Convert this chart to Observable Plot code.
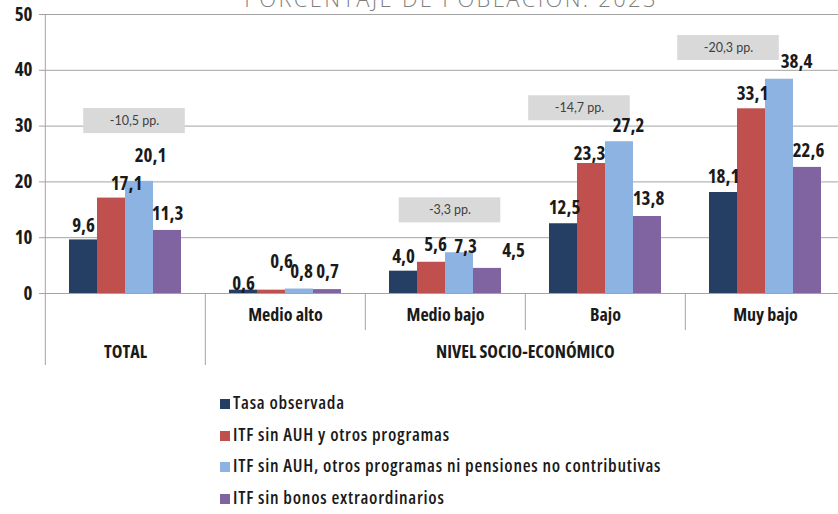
<!DOCTYPE html>
<html>
<head>
<meta charset="utf-8">
<script src="https://cdn.jsdelivr.net/npm/d3@7"></script>
<script src="https://cdn.jsdelivr.net/npm/@observablehq/plot@0.6"></script>
<style>
  html, body { margin: 0; padding: 0; background: #fff; overflow: hidden; }
  #wrap { position: relative; width: 838px; height: 514px; overflow: hidden; background: #fff; }
  #title { position: absolute; left: 0; top: -13px; width: 902px; text-align: center;
           font-family: "Open Sans", Lato, sans-serif; font-weight: 300; font-size: 22px; line-height: 22px;
           color: #7f7f7f; letter-spacing: 2.3px; }
  #chart { position: absolute; left: 0; top: 0; }
  #legend { position: absolute; left: 220px; top: 392px; }
  .item { position: absolute; left: 0; white-space: nowrap; height: 20px; }
  .sw { position: absolute; left: 0; top: 7px; width: 10px; height: 10px; }
  .lt { position: absolute; left: 13px; top: 0; line-height: 20px; font-size: 18px; color: #1a1a1a;
        font-family: "Open Sans", sans-serif; font-weight: 600; font-stretch: 75%; letter-spacing: 0.75px; }
</style>
</head>
<body>
<div id="wrap">
  <div id="title">PORCENTAJE DE POBLACIÓN. 2023</div>
  <div id="chart"></div>
  <div id="legend"></div>
</div>
<script>
// ---------- data ----------
const categories = ["TOTAL", "Medio alto", "Medio bajo", "Bajo", "Muy bajo"];
const seriesNames = [
  "Tasa observada",
  "ITF sin AUH y otros programas",
  "ITF sin AUH, otros programas ni pensiones no contributivas",
  "ITF sin bonos extraordinarios"
];
const tasaObservada     = [9.6, 0.6, 4.0, 12.5, 18.1];
const sinAUH            = [17.1, 0.6, 5.6, 23.3, 33.1];
const sinAUHniPensiones = [20.1, 0.8, 7.3, 27.2, 38.4];
const sinBonos          = [11.3, 0.7, 4.5, 13.8, 22.6];
const yTicks = [0, 10, 20, 30, 40, 50];
const annotCategories = ["TOTAL", "Medio bajo", "Bajo", "Muy bajo"];
const annotLabels = ["-10,5 pp.", "-3,3 pp.", "-14,7 pp.", "-20,3 pp."];
const groupTitle = "NIVEL SOCIO-ECONÓMICO";

// ---------- styles / layout ----------
const colors = ["#243f63", "#c0504d", "#8db3e2", "#8064a2"];
const W = 846, H = 375, ML = 44, MT = 14, MB = 82;
const STEP = (W - ML) / categories.length;
const COND = '"Open Sans", sans-serif';
const GRID = "#a3a3a3";
// per-label nudges [dx, dy] (category row x series column)
const labelNudge = [
  [[0, -8], [15, -8], [11, -19], [0, -10]],
  [[0, 0], [10, -22], [2, -11], [0, -12]],
  [[0, -8], [4, -11], [6, 0], [26, -11]],
  [[1, -10], [-2, -3], [9, -10], [1, -11]],
  [[0, -10], [1, -9], [17, -11], [1, -10]]
];
// annotation box centre (in y units) and horizontal shift from facet centre
const annotLayout = [
  {y: 30.9, dx: 9}, {y: 14.9, dx: 4.5}, {y: 33.2, dx: -26}, {y: 44.0, dx: -37}
];

const seriesValues = [tasaObservada, sinAUH, sinAUHniPensiones, sinBonos];
const fmt = v => v.toFixed(1).replace(".", ",");
const rows = categories.flatMap((c, i) => seriesNames.map((s, j) => ({cat: c, series: s, value: seriesValues[j][i], i, j})));

const labelMarks = rows.map(r => Plot.text([r], {
  fx: "cat", x: "series", y: "value", text: d => fmt(d.value),
  lineAnchor: "bottom", dx: labelNudge[r.i][r.j][0], dy: labelNudge[r.i][r.j][1],
  fontFamily: COND, fontWeight: "bold", fontSize: 19, fill: "#1a1a1a"
}));

const annotMarks = annotCategories.flatMap((c, k) => {
  const a = {cat: c, label: annotLabels[k], y: annotLayout[k].y};
  return [
    Plot.rect([a], {fx: "cat", y1: "y", y2: "y", insetTop: -12.5, insetBottom: -12.5,
      insetLeft: (STEP - 102) / 2, insetRight: (STEP - 102) / 2, dx: annotLayout[k].dx, fill: "#d9d9d9"}),
    Plot.text([a], {fx: "cat", x: null, y: "y", text: "label", dx: annotLayout[k].dx,
      fontFamily: 'Lato, sans-serif', fontSize: 12.5, fill: "#404040"})
  ];
});

const labelStyle = {fontFamily: COND, fontWeight: "bold", fontSize: 18, fill: "#1a1a1a"};

const chart = Plot.plot({
  width: W, height: H,
  marginLeft: ML, marginRight: 0, marginTop: MT, marginBottom: MB,
  style: {maxWidth: "none", background: "transparent", fontFamily: COND, fontStretch: "75%"},
  fx: {domain: categories, padding: 0, axis: null},
  x: {domain: seriesNames, paddingInner: 0, paddingOuter: 0.79, axis: null},
  y: {domain: [0, 50], axis: null},
  color: {domain: seriesNames, range: colors},
  marks: [
    Plot.gridY(yTicks, {stroke: GRID, strokeOpacity: 1}),
    Plot.axisY({ticks: yTicks, tickSize: 6, tickPadding: 7, stroke: GRID, fill: "#1a1a1a",
      fontSize: 19, fontWeight: "bold", fontFamily: COND, label: null, tickFormat: d => String(d)}),
    Plot.barY(rows, {fx: "cat", x: "series", y: "value", fill: "series"}),
    // separators
    Plot.ruleX([categories[0]], {fx: d => d, x: null, y1: 50, y2: 0, insetBottom: -72, dx: -STEP / 2, stroke: GRID}),
    Plot.ruleX([categories[1]], {fx: d => d, x: null, y1: 0, y2: 0, insetBottom: -72, dx: -STEP / 2, stroke: GRID}),
    Plot.ruleX(categories.slice(2), {fx: d => d, x: null, y1: 0, y2: 0, insetBottom: -37, dx: -STEP / 2, stroke: GRID}),
    Plot.ruleX([categories[categories.length - 1]], {fx: d => d, x: null, y1: 0, y2: 0, insetBottom: -37, dx: STEP / 2, stroke: GRID}),
    ...annotMarks,
    ...labelMarks,
    // category labels
    Plot.text(categories.slice(1), {fx: d => d, x: null, y: null, text: d => d, frameAnchor: "bottom", dy: 27, ...labelStyle}),
    Plot.text([categories[0]], {fx: d => d, x: null, y: null, text: d => d, frameAnchor: "bottom", dy: 64, ...labelStyle}),
    Plot.text([groupTitle], {fx: () => categories[3], x: null, y: null, text: d => d, frameAnchor: "bottom", dy: 64,
      dx: -STEP / 2, ...labelStyle})
  ]
});
document.getElementById("chart").appendChild(chart);

// legend
const legend = document.getElementById("legend");
const rowTops = [0, 31.5, 63, 94.5];
seriesNames.forEach((s, k) => {
  const it = document.createElement("div");
  it.className = "item";
  it.style.top = rowTops[k] + "px";
  const sw = document.createElement("div");
  sw.className = "sw"; sw.style.background = colors[k];
  const t = document.createElement("div");
  t.className = "lt"; t.textContent = s;
  it.appendChild(sw); it.appendChild(t);
  legend.appendChild(it);
});
</script>
</body>
</html>
